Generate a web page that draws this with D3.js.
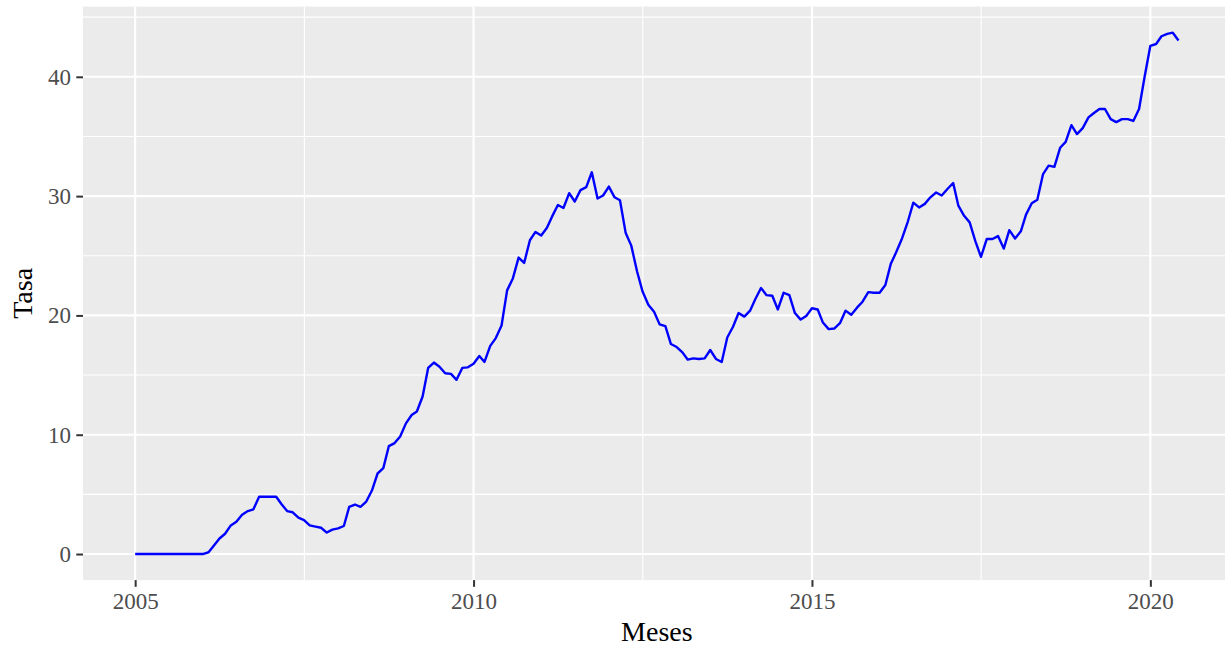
<html>
<head>
<script src="https://d3js.org/d3.v7.min.js"></script>
<style>
  body { margin: 0; background: #fff; }
  text { font-family: "Liberation Serif", "Times New Roman", serif; }
</style>
</head>
<body>
<svg id="chart" width="1225" height="649"></svg>
<script>
// serie mensual, primer mes = inicio
const inicio = "2005-01";
const tasa = [
  0, 0, 0, 0, 0, 0, 0, 0, 0, 0, 0, 0,
  0, 0.15, 0.7, 1.3, 1.7, 2.4, 2.7, 3.3, 3.6, 3.75, 4.8, 4.8,
  4.8, 4.8, 4.2, 3.6, 3.5, 3.05, 2.85, 2.4, 2.3, 2.2, 1.8, 2.05,
  2.15, 2.35, 3.95, 4.15, 3.95, 4.4, 5.3, 6.75, 7.2, 9.05, 9.3, 9.85,
  10.95, 11.65, 11.95, 13.2, 15.6, 16.05, 15.7, 15.15, 15.1, 14.6, 15.6, 15.65,
  15.95, 16.6, 16.1, 17.45, 18.1, 19.15, 22.1, 23.1, 24.85, 24.4, 26.3, 27.0,
  26.7, 27.35, 28.3, 29.25, 29.0, 30.25, 29.55, 30.5, 30.75, 32.0, 29.8, 30.05,
  30.8, 29.9, 29.65, 26.9, 25.85, 23.7, 22.0, 20.9, 20.3, 19.25, 19.1, 17.6,
  17.35, 16.9, 16.3, 16.4, 16.35, 16.4, 17.1, 16.35, 16.1, 18.15, 19.05, 20.2,
  19.9, 20.4, 21.35, 22.3, 21.7, 21.65, 20.5, 21.9, 21.7, 20.2, 19.65, 19.95,
  20.6, 20.5, 19.4, 18.85, 18.9, 19.35, 20.4, 20.05, 20.65, 21.15, 21.95, 21.9,
  21.9, 22.55, 24.3, 25.35, 26.45, 27.85, 29.45, 29.05, 29.35, 29.9, 30.3, 30.05,
  30.6, 31.1, 29.2, 28.35, 27.8, 26.2, 24.9, 26.4, 26.4, 26.65, 25.6, 27.15,
  26.45, 27.05, 28.45, 29.4, 29.7, 31.85, 32.55, 32.45, 34.05, 34.55, 35.95, 35.2,
  35.7, 36.6, 36.95, 37.3, 37.3, 36.45, 36.2, 36.45, 36.45, 36.3, 37.3, 40.0,
  42.6, 42.75, 43.4, 43.6, 43.7, 43.05
];
const xTicks = ["2005", "2010", "2015", "2020"];
const yTicks = [0, 10, 20, 30, 40];
const yMinor = [5, 15, 25, 35, 45];
const xTitle = "Meses";
const yTitle = "Tasa";

const parseMonth = d3.timeParse("%Y-%m");
const parseYear = d3.timeParse("%Y");
const start = parseMonth(inicio);
const data = tasa.map((v, i) => ({ fecha: d3.timeMonth.offset(start, i), tasa: v }));

const svg = d3.select("svg#chart");
const pLeft = 83, pRight = 1230.7, pTop = 6.6, pBottom = 580.1;

// ggplot-like 5% expansion
const xExt = d3.extent(data, d => d.fecha);
const xPad = (xExt[1] - xExt[0]) * 0.05;
const x = d3.scaleTime()
  .domain([new Date(+xExt[0] - xPad), new Date(+xExt[1] + xPad)])
  .range([pLeft, pRight]);

const yExt = d3.extent(data, d => d.tasa);
const yPad = (yExt[1] - yExt[0]) * 0.05;
const y = d3.scaleLinear()
  .domain([yExt[0] - yPad, yExt[1] + yPad])
  .range([pBottom, pTop]);

const xMajor = xTicks.map(parseYear);
const xMinor = d3.pairs(xMajor).map(p => new Date((+p[0] + +p[1]) / 2));

// panel
svg.append("rect")
  .attr("x", pLeft).attr("y", pTop)
  .attr("width", pRight - pLeft).attr("height", pBottom - pTop)
  .attr("fill", "#EBEBEB");

const grid = svg.append("g");
yMinor.filter(v => v <= y.domain()[1]).forEach(v => {
  grid.append("line").attr("x1", pLeft).attr("x2", pRight)
    .attr("y1", y(v)).attr("y2", y(v))
    .attr("stroke", "#fff").attr("stroke-width", 1.1);
});
xMinor.forEach(v => {
  grid.append("line").attr("y1", pTop).attr("y2", pBottom)
    .attr("x1", x(v)).attr("x2", x(v))
    .attr("stroke", "#fff").attr("stroke-width", 1.1);
});
yTicks.forEach(v => {
  grid.append("line").attr("x1", pLeft).attr("x2", pRight)
    .attr("y1", y(v)).attr("y2", y(v))
    .attr("stroke", "#fff").attr("stroke-width", 2.1);
});
xMajor.forEach(v => {
  grid.append("line").attr("y1", pTop).attr("y2", pBottom)
    .attr("x1", x(v)).attr("x2", x(v))
    .attr("stroke", "#fff").attr("stroke-width", 2.1);
});

// serie
const line = d3.line().x(d => x(d.fecha)).y(d => y(d.tasa));
svg.append("path")
  .datum(data)
  .attr("d", line)
  .attr("fill", "none")
  .attr("stroke", "#0000FF")
  .attr("stroke-width", 2.4)
  .attr("stroke-linejoin", "round");

// ejes
const xAxis = svg.append("g")
  .attr("transform", `translate(0,${pBottom})`)
  .call(d3.axisBottom(x).tickValues(xMajor).tickFormat(d3.timeFormat("%Y"))
    .tickSize(6.7).tickPadding(5.4));
const yAxis = svg.append("g")
  .attr("transform", `translate(${pLeft},0)`)
  .call(d3.axisLeft(y).tickValues(yTicks).tickSize(6.7).tickPadding(5.4));

[xAxis, yAxis].forEach(a => {
  a.select(".domain").remove();
  a.selectAll(".tick line").attr("stroke", "#333333").attr("stroke-width", 2);
  a.selectAll(".tick text")
    .attr("fill", "#4D4D4D")
    .style("font-size", "23px")
    .style("font-family", "'Liberation Serif', serif");
});

svg.append("text")
  .attr("x", (pLeft + pRight) / 2).attr("y", 641)
  .attr("text-anchor", "middle")
  .style("font-size", "28px")
  .attr("fill", "#000")
  .text(xTitle);

svg.append("text")
  .attr("transform", `translate(32,${(pTop + pBottom) / 2}) rotate(-90)`)
  .attr("text-anchor", "middle")
  .style("font-size", "28px")
  .attr("fill", "#000")
  .text(yTitle);
</script>
</body>
</html>
